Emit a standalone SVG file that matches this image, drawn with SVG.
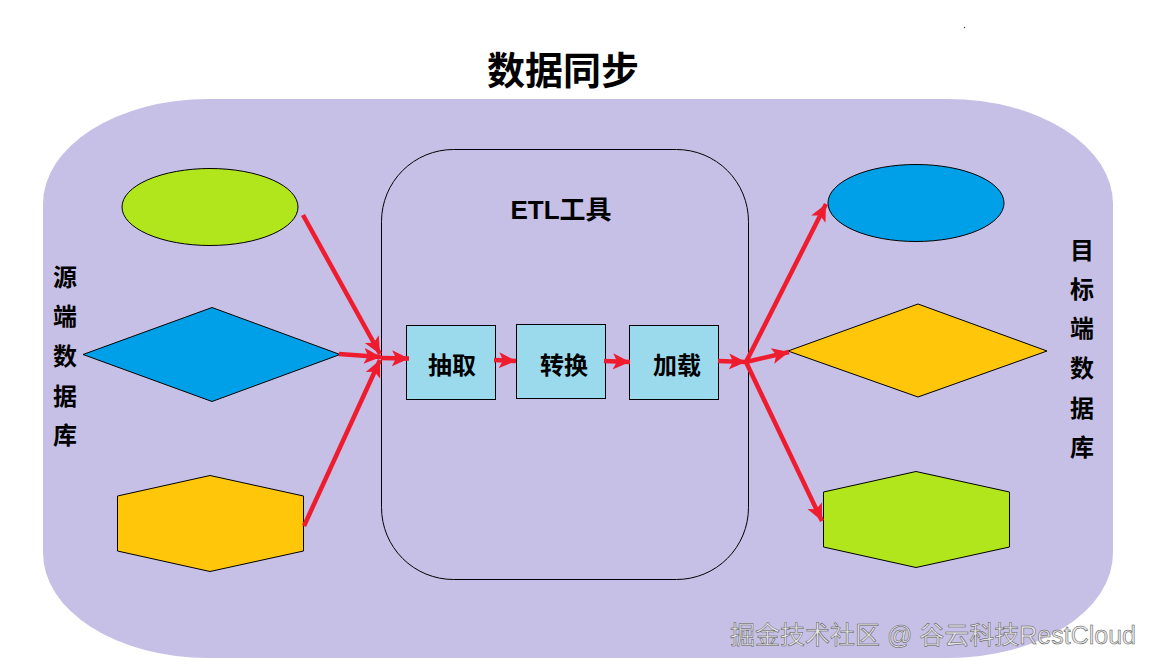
<svg xmlns="http://www.w3.org/2000/svg" width="1156" height="669" viewBox="0 0 1156 669">
<style>
.s{stroke:#000;stroke-width:1}
.g{fill:#b2e61c}.b{fill:#00a0e8}.y{fill:#ffc60a}
.p{fill:#9bd9ec;stroke:#000;stroke-width:1}
text{font-family:"Liberation Sans","Noto Sans CJK SC",sans-serif;fill:#000;font-weight:700;text-anchor:middle}
.t{font-size:24px}
.a{stroke:#ee1c2e;stroke-width:4.500;fill:none;marker-end:url(#m)}
</style>
<defs><marker id="m" markerUnits="userSpaceOnUse" markerWidth="20" markerHeight="18" refX="17" refY="8" orient="auto"><path d="M0 0L17 8L0 16L4 8Z" fill="#ee1c2e"/></marker></defs>
<rect x="0" y="0" width="1156" height="669" fill="#fff"/>
<rect id="background" x="43" y="99" width="1070" height="559" rx="165" ry="105" fill="#c6c0e6"/>
<text x="563" y="84" font-size="38" id="title">数据同步</text>
<circle cx="964.500" cy="27.500" r="0.700" fill="#333"/>
<g id="etl"><rect x="381.500" y="149.500" width="367" height="430" rx="72" ry="72" fill="none" class="s"/><text x="561" y="219" style="font-size:26px">ETL工具</text></g>
<g id="src-ellipse"><ellipse cx="210" cy="207" rx="88" ry="38.500" class="s g"/></g>
<g id="src-diamond"><polygon points="83,354.500 212,307.500 340,354.500 212,401.500" class="s b"/></g>
<g id="src-hex"><polygon points="117.500,496 210,475.500 303.500,496 303.500,551 210,571.500 117.500,551" class="s y"/></g>
<g id="dst-ellipse"><ellipse cx="916" cy="203" rx="88" ry="38.500" class="s b"/></g>
<g id="dst-diamond"><polygon points="788,351 918,304 1047,351 918,397" class="s y"/></g>
<g id="dst-hex"><polygon points="823.500,492 916,471.500 1009.500,492 1009.500,547 916,567.500 823.500,547" class="s g"/></g>
<g id="extract"><rect x="406.500" y="325.500" width="89" height="74" class="p"/><text x="452" y="374" class="t">抽取</text></g>
<g id="transform"><rect x="516.500" y="324.500" width="89" height="74" class="p"/><text x="564" y="374" class="t">转换</text></g>
<g id="load"><rect x="629.500" y="325.500" width="89" height="74" class="p"/><text x="677" y="374" class="t">加载</text></g>
<g id="src-label" style="font-size:24px"><text x="65" y="286">源</text><text x="65" y="325">端</text><text x="65" y="365">数</text><text x="65" y="405">据</text><text x="65" y="444">库</text></g>
<g id="dst-label" style="font-size:24px"><text x="1082" y="259">目</text><text x="1082" y="298">标</text><text x="1082" y="337">端</text><text x="1082" y="377">数</text><text x="1082" y="417">据</text><text x="1082" y="456">库</text></g>
<g id="connectors">
<path class="a" d="M303 215L380 354"/>
<path class="a" d="M339 354L381 357"/>
<path class="a" d="M304 526L380 360"/>
<path class="a" d="M381 358L409 358.500"/>
<path class="a" d="M494 360L516 361"/>
<path class="a" d="M604 361L630 362"/>
<path class="a" d="M718 361L746 362"/>
<path class="a" d="M746 362L826 204"/>
<path class="a" d="M746 362L789 352"/>
<path class="a" d="M746 362L822 521"/>
</g>
<text id="watermark" x="933" y="644" font-size="25" style="font-weight:400;fill:#e6e6e6;stroke:#555;stroke-width:.5">掘金技术社区 @ 谷云科技RestCloud</text>
</svg>
